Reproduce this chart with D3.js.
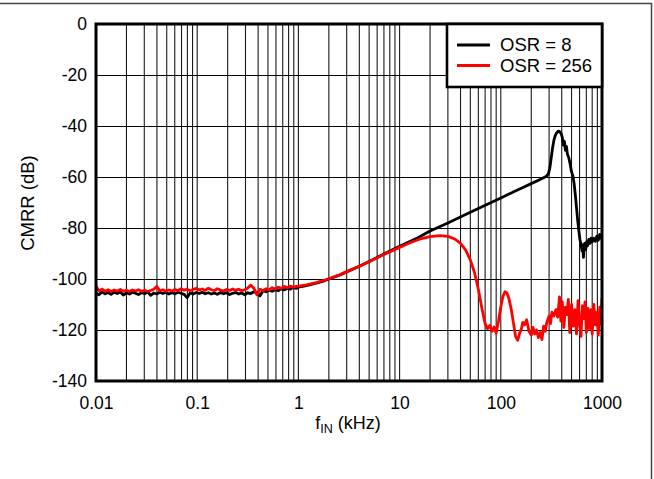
<!DOCTYPE html>
<html><head><meta charset="utf-8">
<script src="https://cdn.jsdelivr.net/npm/d3@7/dist/d3.min.js"></script>
<style>
html,body{margin:0;padding:0;background:#fff;}
svg{display:block;font-family:"Liberation Sans",Arial,sans-serif;}
</style></head>
<body>
<svg id="chart" width="654" height="479"></svg>
<script>
// ---------- DATA ----------
const yTicks = [0, -20, -40, -60, -80, -100, -120, -140];
const xTicks = [0.01, 0.1, 1, 10, 100, 1000];
const xTickLabels = ["0.01", "0.1", "1", "10", "100", "1000"];
const seriesNames = ["OSR = 8", "OSR = 256"];

const osr8Freq = [0.010,0.0107,0.0115,0.0123,0.0132,0.0141,0.0151,0.0162,0.0174,0.0186,0.020,0.0214,0.0229,0.0245,0.0263,0.0282,0.0302,0.0324,0.0347,0.0372,0.0398,0.0427,0.0457,0.049,0.0525,0.0562,0.0603,0.0646,0.0692,0.0741,0.0794,0.0851,0.0912,0.0977,
0.105,0.112,0.120,0.129,0.138,0.148,0.158,0.170,0.182,0.195,0.209,0.224,0.240,0.257,0.275,0.295,0.316,0.339,0.363,0.389,0.417,0.447,0.479,0.513,0.550,0.589,0.631,0.676,0.724,0.776,0.832,0.891,0.955,1.0,
1.2,1.5,1.8,2.0,2.5,3.0,4.0,5.0,7.0,10,15,20,30,50,100,150,200,250,280,295,305,315,325,335,345,355,365,375,385,395,405,415,425,435,445,455,470,485,500,515,530,545,560,575,590,605,620,635,645,655,665,675,690,705,720,740,760,780,800,830,860,890,920,950,975,1000];
const osr8Db = [-105.5,-106.2,-105.0,-105.8,-105.3,-106.0,-105.2,-105.7,-105.1,-106.3,-105.4,-105.9,-105.2,-105.6,-106.1,-105.3,-105.8,-105.0,-106.4,-105.5,-105.9,-105.2,-105.7,-105.3,-105.9,-105.4,-105.8,-105.2,-105.6,-106.0,-107.3,-105.5,-105.9,-105.3,
-105.7,-105.2,-105.8,-105.4,-105.9,-105.5,-106.0,-105.3,-105.8,-105.4,-106.1,-105.6,-105.3,-105.9,-105.5,-106.2,-105.4,-105.7,-105.0,-105.2,-106.6,-104.6,-105.0,-104.4,-104.8,-104.2,-104.6,-103.8,-104.3,-103.6,-104.0,-103.3,-103.7,-103.2,
-102.6,-101.6,-100.7,-100.0,-98.6,-97.2,-95.0,-93.1,-90.2,-87.2,-83.9,-81.2,-78.0,-73.8,-68.2,-64.9,-62.6,-60.8,-59.8,-58.8,-56.5,-52.5,-48.5,-45.5,-43.8,-42.8,-42.2,-42.0,-42.4,-43.0,-44.5,-47.5,-46.0,-49.5,-48.0,-51.0,-52.5,-55.0,-58.0,-59.5,-62.5,-67.0,-72.0,-77.0,-81.0,-84.5,-86.5,-89.0,-86.5,-91.5,-88.0,-86.0,-88.5,-85.5,-87.0,-84.5,-86.0,-84.0,-85.5,-84.0,-85.2,-83.2,-84.8,-82.5,-84.0,-83.5];

const osr256Freq = [0.010,0.0107,0.0115,0.0123,0.0132,0.0141,0.0151,0.0162,0.0174,0.0186,0.020,0.0214,0.0229,0.0245,0.0263,0.0282,0.0302,0.0324,0.0347,0.0372,0.0398,0.0427,0.0457,0.049,0.0525,0.0562,0.0603,0.0646,0.0692,0.0741,0.0794,0.0851,0.0912,0.0977,
0.105,0.112,0.120,0.129,0.138,0.148,0.158,0.170,0.182,0.195,0.209,0.224,0.240,0.257,0.275,0.295,0.316,0.339,0.363,0.389,0.417,0.447,0.479,0.513,0.550,0.589,0.631,0.676,0.724,0.776,0.832,0.891,0.955,1.0,
1.2,1.5,1.8,2.0,2.5,3.0,4.0,5.0,7.0,10,13,16,20,25,30,35,40,45,50,55,60,65,70,74,78,82,86,90,95,100,105,110,115,120,127,133,140,147,153,160,165,172,180,190,200,208,216,225,235,245,255,265,275,285,300,310,320,335,350,365,380,392,405,420,435,450,465,480,500,520,540,560,580,600,620,640,660,680,700,725,750,775,800,830,860,890,920,950,975,1000];
const osr256Db = [-102.8,-104.6,-104.0,-104.8,-104.2,-104.9,-104.3,-104.7,-104.1,-104.8,-104.4,-104.9,-104.3,-104.7,-104.2,-104.8,-104.4,-104.9,-104.5,-104.0,-102.9,-104.6,-104.2,-104.8,-104.3,-104.7,-104.1,-104.5,-103.8,-104.4,-104.0,-104.6,-104.1,-103.6,
-104.3,-103.9,-104.5,-103.6,-104.2,-104.6,-103.8,-104.3,-104.7,-104.1,-104.5,-103.9,-104.4,-104.0,-104.6,-104.2,-103.5,-102.4,-103.6,-106.2,-104.0,-104.6,-103.8,-104.3,-103.4,-103.9,-103.2,-103.7,-102.9,-103.4,-102.8,-103.2,-102.9,-102.8,
-102.3,-101.4,-100.5,-99.9,-98.5,-97.1,-95.0,-93.2,-90.4,-87.6,-85.6,-84.3,-83.4,-83.0,-83.3,-84.3,-86.0,-88.7,-92.5,-97.5,-104.0,-111.5,-117.5,-119.5,-118.2,-120.5,-118.8,-121.2,-116.5,-111.0,-106.8,-105.0,-105.5,-107.5,-112.0,-117.0,-122.5,-124.0,-121.5,-119.5,-117.0,-118.0,-116.0,-120.5,-122.0,-119.0,-121.5,-120.0,-123.0,-121.0,-123.8,-118.5,-120.5,-117.0,-114.5,-117.5,-113.0,-114.5,-112.0,-115.0,-107.0,-116.5,-109.0,-119.0,-111.0,-114.0,-108.0,-121.0,-110.0,-118.5,-112.0,-121.5,-108.5,-117.0,-122.5,-110.5,-115.5,-109.0,-121.0,-111.5,-119.5,-112.0,-121.5,-110.0,-118.0,-113.0,-122.0,-111.0,-117.5,-107.5];

// ---------- CHART ----------
const svg = d3.select("#chart");
const W = 654, H = 479;
const pL = 96, pR = 602, pT = 24, pB = 381;
const FONT = '"Liberation Sans",Arial,sans-serif';

svg.append("rect").attr("width", W).attr("height", H).attr("fill", "#fff");
// outer frame (top and right edges)
svg.append("line").attr("x1", 0).attr("x2", 652).attr("y1", 3.5).attr("y2", 3.5).attr("stroke", "#444").attr("stroke-width", 1.5);
svg.append("line").attr("x1", 651.5).attr("x2", 651.5).attr("y1", 3).attr("y2", H).attr("stroke", "#444").attr("stroke-width", 1.5);

const x = d3.scaleLog().domain([0.01, 1000]).range([pL, pR]);
const y = d3.scaleLinear().domain([-140, 0]).range([pB, pT]);

// grid
const g = svg.append("g");
x.ticks().filter(v => v > 0.01 * 1.0001 && v < 1000 * 0.9999).forEach(v => {
  g.append("line")
    .attr("x1", x(v)).attr("x2", x(v)).attr("y1", pT).attr("y2", pB)
    .attr("stroke", "#1a1a1a").attr("stroke-width", 1.1);
});
yTicks.filter(v => v > -140 && v < 0).forEach(v => {
  g.append("line").attr("x1", pL).attr("x2", pR).attr("y1", Math.round(y(v)) + 0.5).attr("y2", Math.round(y(v)) + 0.5)
    .attr("stroke", "#000").attr("stroke-width", 1.2);
});

// clip
svg.append("clipPath").attr("id", "clip").append("rect")
  .attr("x", pL).attr("y", pT).attr("width", pR - pL).attr("height", pB - pT);

const line = d3.line().x(d => x(d[0])).y(d => y(d[1]));
const s8 = osr8Freq.map((f, i) => [f, osr8Db[i]]);
const s256 = osr256Freq.map((f, i) => [f, osr256Db[i]]);

const lines = svg.append("g").attr("clip-path", "url(#clip)");
lines.append("path").datum(s8).attr("d", line).attr("fill", "none")
  .attr("stroke", "#000").attr("stroke-width", 2.8).attr("stroke-linejoin", "round");
lines.append("path").datum(s256).attr("d", line).attr("fill", "none")
  .attr("stroke", "#ff0000").attr("stroke-width", 2.8).attr("stroke-linejoin", "round");

// plot frame
svg.append("rect").attr("x", pL).attr("y", pT).attr("width", pR - pL).attr("height", pB - pT)
  .attr("fill", "none").attr("stroke", "#000").attr("stroke-width", 3);

// axes
const yAxis = svg.append("g").attr("transform", `translate(${pL},0)`)
  .call(d3.axisLeft(y).tickValues(yTicks).tickSize(0).tickPadding(9).tickFormat(d => String(d)));
yAxis.select(".domain").remove();
yAxis.selectAll("text").attr("font-size", 17.5).attr("font-family", FONT).attr("fill", "#000");

const xAxis = svg.append("g").attr("transform", `translate(0,${pB})`)
  .call(d3.axisBottom(x).tickValues(xTicks).tickSize(0).tickPadding(15.5).tickFormat((d, i) => xTickLabels[i]));
xAxis.select(".domain").remove();
xAxis.selectAll("text").attr("font-size", 17.5).attr("font-family", FONT).attr("fill", "#000");

// axis titles
const xt = svg.append("text").attr("x", 348).attr("y", 429).attr("text-anchor", "middle")
  .attr("font-family", FONT).attr("font-size", 18).attr("fill", "#000");
xt.append("tspan").text("f");
xt.append("tspan").text("IN").attr("font-size", 12.5).attr("dy", 4);
xt.append("tspan").text(" (kHz)").attr("dy", -4);

svg.append("text").attr("transform", "translate(33.5,203) rotate(-90)").attr("text-anchor", "middle")
  .attr("font-family", FONT).attr("font-size", 18.5).attr("fill", "#000").text("CMRR (dB)");

// legend
const lg = svg.append("g");
lg.append("rect").attr("x", 447).attr("y", 24).attr("width", 155).attr("height", 63)
  .attr("fill", "#fff").attr("stroke", "#000").attr("stroke-width", 2.6);
const legColors = ["#000", "#ff0000"];
seriesNames.forEach((n, i) => {
  const yy = 45 + i * 20.5;
  lg.append("line").attr("x1", 457).attr("x2", 490).attr("y1", yy).attr("y2", yy)
    .attr("stroke", legColors[i]).attr("stroke-width", 2.8);
  lg.append("text").attr("x", 500).attr("y", yy).attr("dy", "0.35em")
    .attr("font-family", FONT).attr("font-size", 18.5).attr("fill", "#000").text(n);
});
</script>
</body></html>
